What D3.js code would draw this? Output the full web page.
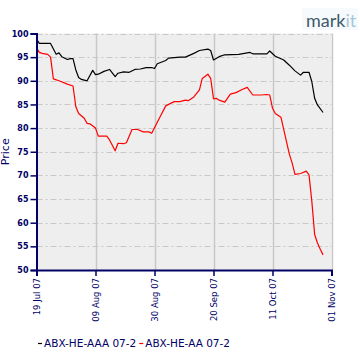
<!DOCTYPE html>
<html>
<head>
<meta charset="utf-8">
<script src="https://cdn.jsdelivr.net/npm/d3@7/dist/d3.min.js"></script>
<style>
  html, body { margin: 0; padding: 0; background: #fff; }
  svg { display: block; }
</style>
</head>
<body>
<svg id="chart" width="360" height="360"></svg>
<script>
// ---- data ----
const seriesNames = ["ABX-HE-AAA 07-2", "ABX-HE-AA 07-2"];
const seriesColors = ["#000000", "#ff0000"];

const aaaDates = ["2007-07-19","2007-07-20","2007-07-24","2007-07-26","2007-07-27","2007-07-28","2007-07-30","2007-07-31",
  "2007-08-01","2007-08-02","2007-08-03","2007-08-04","2007-08-06","2007-08-08","2007-08-09","2007-08-10","2007-08-12",
  "2007-08-14","2007-08-16","2007-08-17","2007-08-19","2007-08-21","2007-08-23","2007-08-25","2007-08-27","2007-08-29",
  "2007-08-30","2007-08-31","2007-09-03","2007-09-04","2007-09-08","2007-09-10","2007-09-13","2007-09-15","2007-09-18",
  "2007-09-19","2007-09-20","2007-09-22","2007-09-24","2007-09-29","2007-10-03","2007-10-04","2007-10-09","2007-10-10",
  "2007-10-12","2007-10-15","2007-10-17","2007-10-19","2007-10-21","2007-10-22","2007-10-24","2007-10-25","2007-10-26",
  "2007-10-27","2007-10-29"];
const aaaValues = [98.8,97.9,97.9,95.6,95.9,95.1,94.5,94.7,
  94.7,92.3,90.7,90.3,90.0,92.2,91.3,91.4,92.0,
  92.4,90.9,91.6,91.9,91.8,92.4,92.5,92.8,92.8,
  92.6,93.6,94.3,94.8,95.0,95.0,95.8,96.4,96.7,
  96.4,94.4,95.1,95.5,95.6,96.0,95.7,95.7,96.3,
  95.2,94.4,93.3,92.1,91.2,91.8,91.8,89.8,86.3,
  84.9,83.3];

const aaDates = ["2007-07-19","2007-07-20","2007-07-21","2007-07-23","2007-07-24","2007-07-25","2007-07-27","2007-07-30",
  "2007-08-01","2007-08-02","2007-08-03","2007-08-05","2007-08-06","2007-08-07","2007-08-09","2007-08-10","2007-08-13",
  "2007-08-14","2007-08-16","2007-08-17","2007-08-19","2007-08-20","2007-08-22","2007-08-24","2007-08-26","2007-08-28",
  "2007-08-29","2007-09-01","2007-09-03","2007-09-06","2007-09-08","2007-09-10","2007-09-11","2007-09-13","2007-09-15",
  "2007-09-16","2007-09-18","2007-09-19","2007-09-20","2007-09-21","2007-09-22","2007-09-24","2007-09-26","2007-09-28",
  "2007-09-30","2007-10-02","2007-10-04","2007-10-07","2007-10-09","2007-10-10","2007-10-11","2007-10-12","2007-10-14",
  "2007-10-16","2007-10-17","2007-10-18","2007-10-19","2007-10-21","2007-10-23","2007-10-24","2007-10-25","2007-10-26",
  "2007-10-27","2007-10-28","2007-10-29"];
const aaValues = [97.0,96.0,95.8,95.6,95.0,90.4,90.0,89.3,
  88.9,84.5,83.1,82.1,81.0,80.9,80.0,78.3,78.3,
  77.5,75.2,76.8,76.7,76.9,79.7,79.7,79.2,79.2,
  78.9,82.4,84.7,85.6,85.6,85.9,85.8,86.6,88.1,
  90.5,91.4,90.5,86.2,86.3,85.9,85.5,87.2,87.5,
  88.1,88.6,87.0,87.0,87.1,87.0,84.2,83.1,82.3,
  77.1,74.5,72.6,70.2,70.4,70.9,70.1,64.5,57.5,
  55.7,54.4,53.2];

const yTicks = [50,55,60,65,70,75,80,85,90,95,100];
const xTickDates = ["2007-07-19","2007-08-09","2007-08-30","2007-09-20","2007-10-11","2007-11-01"];
const yLabel = "Price";

// ---- layout ----
const parse = d3.timeParse("%Y-%m-%d");
const svg = d3.select("#chart");
const L = 36.5, R = 331.5, T = 33.5, B = 270;
const navy = "#000066";
const font = "'DejaVu Sans', sans-serif";

const x = d3.scaleTime().domain([parse(xTickDates[0]), parse(xTickDates[xTickDates.length-1])]).range([L, R]);
const y = d3.scaleLinear().domain([50, 100]).range([B, T]);

// plot background
svg.append("rect").attr("x", L).attr("y", T).attr("width", R - L).attr("height", B - T).attr("fill", "#eeeeee");

// vertical grid
svg.append("g").selectAll("line").data(xTickDates.slice(1)).join("line")
  .attr("x1", d => Math.round(x(parse(d))) + 0.5).attr("x2", d => Math.round(x(parse(d))) + 0.5)
  .attr("y1", T).attr("y2", B)
  .attr("stroke", "#c8c8c8").attr("stroke-width", 1.5);

// horizontal grid (dash-dot)
svg.append("g").selectAll("line").data(yTicks.slice(1)).join("line")
  .attr("x1", L).attr("x2", R)
  .attr("y1", d => Math.round(y(d)) + 0.5).attr("y2", d => Math.round(y(d)) + 0.5)
  .attr("stroke", "#c8c8c8").attr("stroke-width", 1)
  .attr("stroke-dasharray", "6,3,2,3");

// series lines
const line = d3.line().x(d => x(d.date)).y(d => y(d.value));
const seriesData = [
  aaaDates.map((d, i) => ({date: parse(d), value: aaaValues[i]})),
  aaDates.map((d, i) => ({date: parse(d), value: aaValues[i]}))
];
[1, 0].forEach(i => {
  svg.append("path").datum(seriesData[i])
    .attr("fill", "none").attr("stroke", seriesColors[i]).attr("stroke-width", 1.2)
    .attr("stroke-linejoin", "round")
    .attr("d", line);
});

// y axis
const yAxis = svg.append("g").attr("transform", `translate(${L},0)`)
  .call(d3.axisLeft(y).tickValues(yTicks).tickSize(6).tickPadding(2).tickFormat(d3.format("d")));
yAxis.select(".domain").attr("stroke", navy).attr("stroke-width", 2);
yAxis.selectAll(".tick line").attr("stroke", navy).attr("stroke-width", 1.5);
yAxis.selectAll(".tick text").attr("fill", navy).attr("font-family", font).attr("font-size", 8).attr("font-weight", "bold");

// x axis
const xAxis = svg.append("g").attr("transform", `translate(0,${B})`)
  .call(d3.axisBottom(x).tickValues(xTickDates.map(parse)).tickSize(6).tickFormat(d3.timeFormat("%d %b %y")));
xAxis.select(".domain").attr("stroke", navy).attr("stroke-width", 2);
xAxis.selectAll(".tick line").attr("stroke", navy).attr("stroke-width", 1.5);
xAxis.selectAll(".tick text").attr("fill", navy).attr("font-family", font).attr("font-size", 8.5)
  .attr("transform", "rotate(-90)")
  .attr("text-anchor", "end").attr("x", -8).attr("y", 0).attr("dy", "0.35em");

// y label
svg.append("text").attr("transform", `translate(9,${(T + B) / 2}) rotate(-90)`)
  .attr("text-anchor", "middle").attr("fill", navy).attr("font-family", font).attr("font-size", 11)
  .text(yLabel);

// legend
const lg = svg.append("g").attr("transform", "translate(38,343)");
let lx = 0;
seriesNames.forEach((name, i) => {
  lg.append("line").attr("x1", lx).attr("x2", lx + 4).attr("y1", 0.5).attr("y2", 0.5)
    .attr("stroke", seriesColors[i]).attr("stroke-width", 1.2);
  const t = lg.append("text").attr("x", lx + 6).attr("y", 4).attr("fill", navy)
    .attr("font-family", font).attr("font-size", 10.5).text(name);
  lx += 6 + t.node().getComputedTextLength() + 3;
});

// logo
svg.append("rect").attr("x", 302).attr("y", 8).attr("width", 56).attr("height", 22).attr("fill", "#f7fafc");
const logo = svg.append("text").attr("x", 306).attr("y", 27).attr("font-family", "Lato, 'Open Sans', sans-serif")
  .attr("font-size", 18);
logo.append("tspan").attr("fill", "#3e5a6a").text("mark");
logo.append("tspan").attr("fill", "#a8c6d6").text("it");
</script>
</body>
</html>
